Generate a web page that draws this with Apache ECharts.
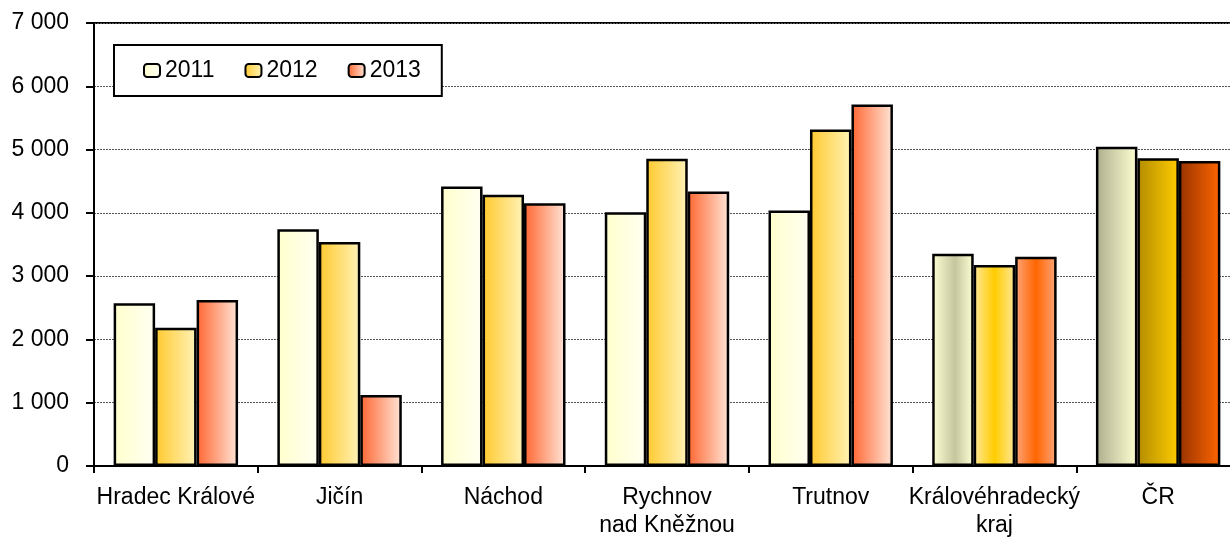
<!DOCTYPE html>
<html><head><meta charset="utf-8">
<script src="https://cdn.jsdelivr.net/npm/echarts@6/dist/echarts.min.js"></script>
<style>html,body{margin:0;padding:0;background:#fff}#c{width:1230px;height:545px}</style>
</head><body><div id="c"></div>
<script>
const categories = ['Hradec Králové', 'Jičín', 'Náchod', 'Rychnov\nnad Kněžnou', 'Trutnov', 'Královéhradecký\nkraj', 'ČR'];
const seriesNames = ['2011', '2012', '2013'];
const values2011 = [2570, 3739, 4418, 4008, 4039, 3354, 5045];
const values2012 = [2185, 3538, 4286, 4855, 5319, 3175, 4861];
const values2013 = [2622, 1121, 4150, 4339, 5714, 3307, 4818];
const yTicks = [0, 1000, 2000, 3000, 4000, 5000, 6000, 7000];

const FONT = '"Liberation Sans", Arial, sans-serif';
function lin(stops) {
  return new echarts.graphic.LinearGradient(0, 0, 1, 0, stops.map((c) => ({offset: c[0], color: c[1]})));
}
const normalGrad = [
  lin([[0, '#FFFFCC'], [1, '#FFFFF3']]),
  lin([[0, '#FFC92E'], [1, '#FFF3B8']]),
  lin([[0, '#FF6631'], [1, '#FFE6D8']])
];
const krajGrad = [
  lin([[0, '#FFFFD6'], [0.55, '#C6C69E'], [1, '#FFFFD6']]),
  lin([[0, '#FFE89A'], [0.5, '#FFCC00'], [1, '#FFE89A']]),
  lin([[0, '#FFA57A'], [0.5, '#FF6600'], [1, '#FFA57A']])
];
const crGrad = [
  lin([[0, '#AEAE8E'], [1, '#FFFFD2']]),
  lin([[0, '#B38C00'], [1, '#FFCC00']]),
  lin([[0, '#983300'], [1, '#FF6600']])
];
const allValues = [values2011, values2012, values2013];

function fmt(v) { return String(v).replace(/\B(?=(\d{3})+(?!\d))/g, ' '); }

const series = seriesNames.map((name, s) => ({
  name: name,
  type: 'bar',
  barGap: '0%',
  barCategoryGap: '24%',
  itemStyle: {color: normalGrad[s], borderColor: '#000', borderWidth: 2.5},
  data: allValues[s].map((v, i) => {
    if (i === 5) return {value: v, itemStyle: {color: krajGrad[s]}};
    if (i === 6) return {value: v, itemStyle: {color: crGrad[s]}};
    return v;
  })
}));

const chart = echarts.init(document.getElementById('c'), null, {renderer: 'canvas'});
chart.setOption({
  animation: false,
  backgroundColor: '#fff',
  grid: {left: 94, width: 1146, top: 23, height: 443, outerBoundsMode: 'none', containLabel: false,
         show: true, borderColor: '#000', borderWidth: 2, backgroundColor: 'transparent'},
  legend: {
    left: 114, top: 45,
    orient: 'horizontal',
    data: seriesNames,
    itemWidth: 16, itemHeight: 13, itemGap: 30,
    padding: [14, 21, 14, 29],
    borderColor: '#000', borderWidth: 2, backgroundColor: '#fff',
    textStyle: {fontFamily: FONT, fontSize: 23, color: '#000'},
    itemStyle: {borderColor: '#000', borderWidth: 2}
  },
  xAxis: {
    type: 'category',
    data: categories,
    axisLine: {lineStyle: {color: '#000', width: 2}},
    axisTick: {show: true, length: 7, lineStyle: {color: '#000', width: 2}},
    axisLabel: {fontFamily: FONT, fontSize: 23, color: '#000', margin: 18, lineHeight: 28, interval: 0}
  },
  yAxis: {
    type: 'value',
    min: yTicks[0], max: yTicks[yTicks.length - 1], interval: 1000,
    axisLine: {show: true, lineStyle: {color: '#000', width: 2}},
    axisTick: {show: true, length: 8, lineStyle: {color: '#000', width: 2}},
    axisLabel: {fontFamily: FONT, fontSize: 23, color: '#000', margin: 25, formatter: fmt},
    splitLine: {show: true, lineStyle: {color: '#555', width: 1, type: [2, 1]}}
  },
  series: series
});
</script></body></html>
